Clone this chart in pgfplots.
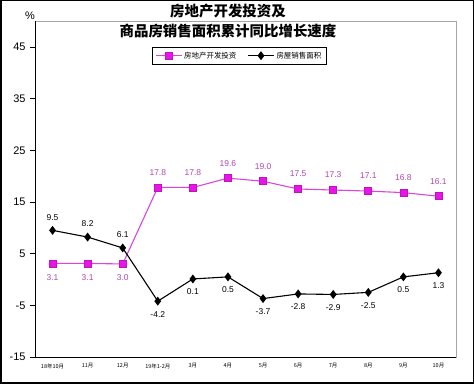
\documentclass[border=0pt]{standalone}
\usepackage{pgfplots}
\usepackage{pgfplotstable}
\pgfplotsset{compat=1.18}
\usepackage{fontspec}
\setmainfont{Liberation Sans}
\newfontfamily\cjk{Noto Sans CJK SC}
\definecolor{pinkline}{RGB}{218,70,218}
\definecolor{pinkfill}{RGB}{232,20,232}
\definecolor{pinkedge}{RGB}{190,20,190}
\definecolor{pinklab}{RGB}{175,70,175}
\pgfplotstableread{
x inv sale
0 3.1 9.5
1 3.1 8.2
2 3.0 6.1
3 17.8 -4.2
4 17.8 0.1
5 19.6 0.5
6 19.0 -3.7
7 17.5 -2.8
8 17.3 -2.9
9 17.1 -2.5
10 16.8 0.5
11 16.1 1.3
}\data
\begin{document}
\begin{tikzpicture}
\useasboundingbox (0,0) rectangle (474bp,387bp);
\draw[line width=1.5bp] (0.75bp,4bp) rectangle (473.25bp,386.25bp);
\begin{axis}[
  at={(35bp,30bp)}, anchor=south west,
  scale only axis, width=421bp, height=336bp,
  xmin=-0.5, xmax=11.5, ymin=-15, ymax=50,
  clip=false,
  axis x line*=bottom, axis y line*=left,
  axis line style={black, line width=0.8bp, -},
  axis background/.style={draw=gray!70, line width=0.8bp},
  /pgf/number format/assume math mode=true,
  ytick={-15,-5,5,15,25,35,45},
  tick align=outside,
  major tick length=5bp,
  tick style={black, line width=0.6bp},
  yticklabel style={font=\fontsize{11}{12}\selectfont, xshift=-1bp},
  xtick={0,...,11},
  x tick style={draw=none},
  xticklabels={18年10月,11月,12月,19年1-2月,3月,4月,5月,6月,7月,8月,9月,10月},
  xticklabel style={font=\fontsize{5.5}{6}\selectfont\cjk, yshift=2bp},
  extra x ticks={0.5,1.5,...,10.5},
  extra x tick labels={},
  extra x tick style={tick align=inside, major tick length=4bp, tick style={draw=black}},
  legend style={at={(0.485,0.9226)}, anchor=north, legend columns=2,
    font=\fontsize{7.5}{8}\selectfont\cjk, draw=black, line width=0.6bp,
    inner sep=2.5bp,
    /tikz/every even column/.append style={column sep=9bp}},
  legend image code/.code={\draw[mark repeat=2,mark phase=2] plot coordinates {(0bp,0bp)(13bp,0bp)(26bp,0bp)};},
]
\addplot[pinkline, line width=1.1bp, mark=square*, mark size=3.5bp,
  mark options={fill=pinkfill, draw=pinkedge, line width=0.6bp}] table[x=x,y=inv] {\data};
\addlegendentry{房地产开发投资}
\addplot[black, line width=1.1bp, mark=diamond*, mark size=3.6bp,
  mark options={fill=black}] table[x=x,y=sale] {\data};
\addlegendentry{房屋销售面积}
% labels
\addplot[forget plot, draw=none, restrict x to domain=3:11,
  nodes near coords={\pgfmathprintnumber[fixed,fixed zerofill,precision=1]{\pgfplotspointmeta}},
  every node near coord/.append style={anchor=center, yshift=15bp, text=pinklab, font=\fontsize{8.5}{9}\selectfont}]
  table[x=x,y=inv] {\data};
\addplot[forget plot, draw=none, restrict x to domain=0:2,
  nodes near coords={\pgfmathprintnumber[fixed,fixed zerofill,precision=1]{\pgfplotspointmeta}},
  every node near coord/.append style={anchor=center, yshift=-14bp, text=pinklab, font=\fontsize{8.5}{9}\selectfont}]
  table[x=x,y=inv] {\data};
\addplot[forget plot, draw=none, restrict x to domain=0:2,
  nodes near coords={\pgfmathprintnumber[fixed,fixed zerofill,precision=1]{\pgfplotspointmeta}},
  every node near coord/.append style={anchor=center, yshift=13bp, text=black, font=\fontsize{8.5}{9}\selectfont}]
  table[x=x,y=sale] {\data};
\addplot[forget plot, draw=none, restrict x to domain=3:11,
  nodes near coords={\pgfmathprintnumber[fixed,fixed zerofill,precision=1]{\pgfplotspointmeta}},
  every node near coord/.append style={anchor=center, yshift=-13bp, text=black, font=\fontsize{8.5}{9}\selectfont}]
  table[x=x,y=sale] {\data};
\node[font=\fontsize{11}{12}\selectfont, anchor=south] at (rel axis cs:-0.012,0.995) {\%};
\end{axis}
\node[font=\fontsize{14.5}{16}\selectfont\cjk\bfseries] at (228bp,375.5bp) {房地产开发投资及};
\node[font=\fontsize{14.5}{16}\selectfont\cjk\bfseries] at (228bp,356bp) {商品房销售面积累计同比增长速度};
\end{tikzpicture}
\end{document}
